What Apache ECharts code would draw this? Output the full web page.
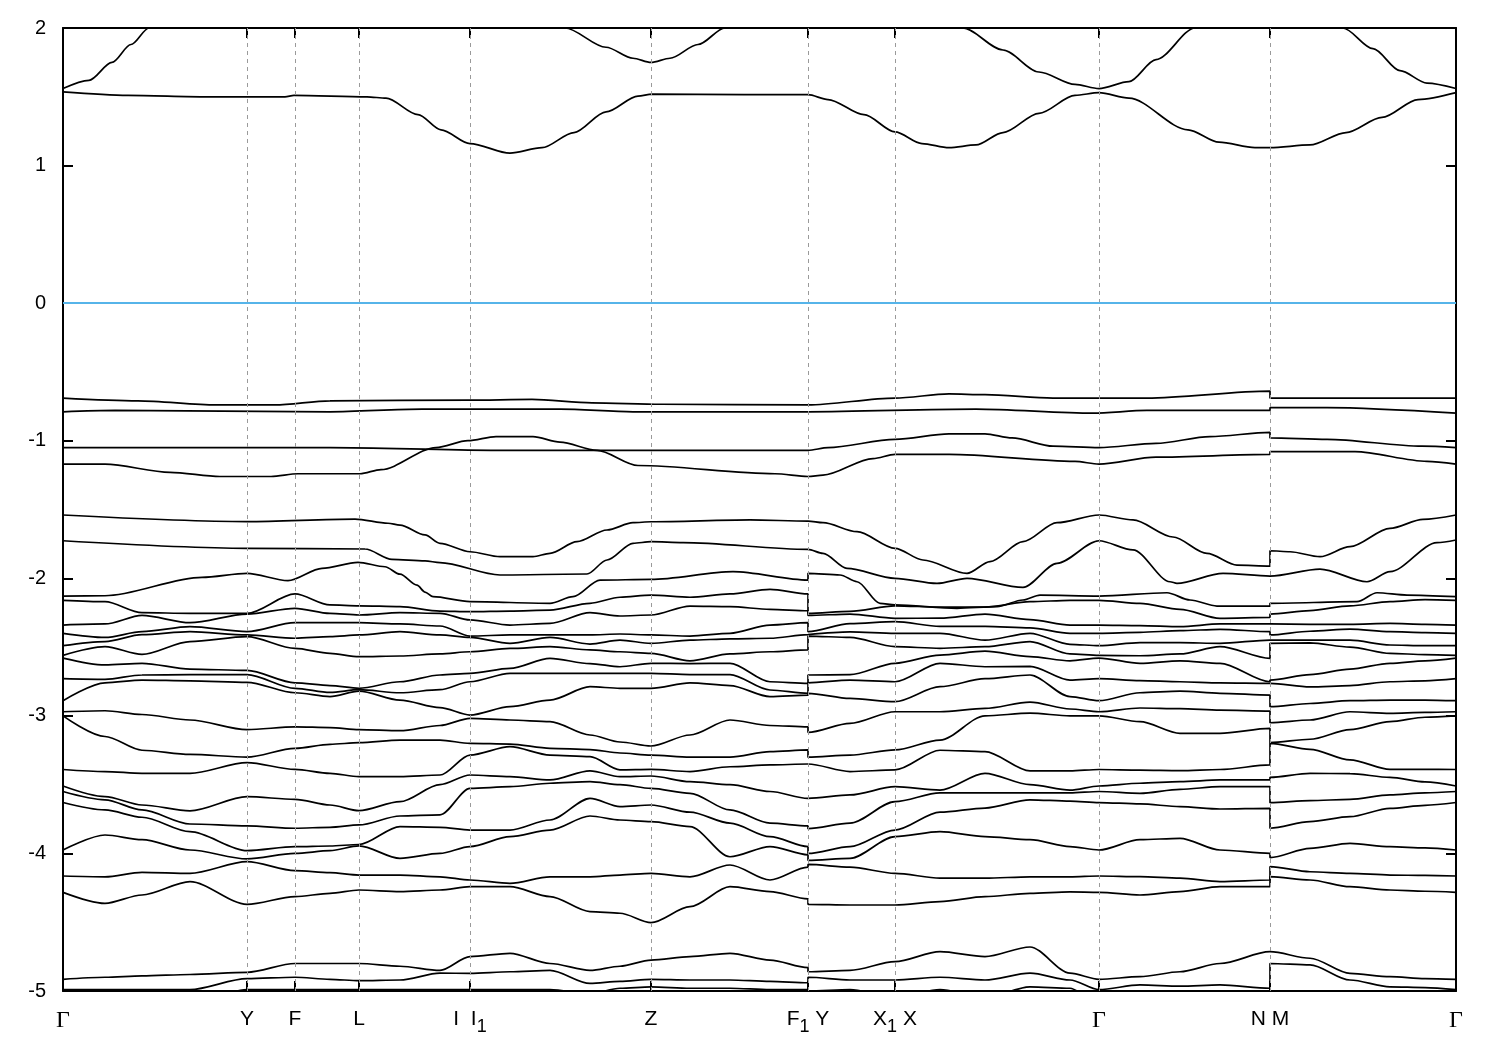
<!DOCTYPE html>
<html><head><meta charset="utf-8">
<script src="https://cdn.jsdelivr.net/npm/echarts@6.0.0/dist/echarts.min.js"></script>
<style>html,body{margin:0;padding:0;background:#fff}#chart{width:1500px;height:1050px}</style>
</head><body><div id="chart"></div>
<script>
// high-symmetry points (path distance, arbitrary units) and their labels
const kTicks = [0, 184, 232, 296, 407, 588, 745, 832, 1036, 1207, 1393];
const kLabels = ['Γ', 'Y', 'F', 'L', 'I  I_1', 'Z', 'F_1 Y', 'X_1 X', 'Γ', 'N M', 'Γ'];
const yTicks = { min: -5, max: 2, step: 1 };
const fermiLevel = 0;

// individually traced bands [k, E(eV)]
const condUpper = [[0,1.56],[26,1.62],[49,1.75],[68,1.88],[86,2.0],[127,2.25],[184,2.4],[237,2.45],[337,2.4],[437,2.25],[502,2.0],[543,1.86],[570,1.78],[588,1.75],[607,1.78],[635,1.88],[662,2.0],[745,2.3],[832,2.25],[900,2.0],[940,1.84],[976,1.68],[1012,1.59],[1036,1.56],[1066,1.61],[1093,1.77],[1132,2.0],[1207,2.3],[1280,2.0],[1310,1.85],[1337,1.69],[1364,1.60],[1393,1.56]];
const condLower = [[0,1.535],[65,1.51],[144,1.50],[222,1.50],[231,1.51],[304,1.50],[323,1.49],[355,1.37],[378,1.26],[407,1.16],[447,1.09],[479,1.13],[511,1.24],[543,1.39],[575,1.505],[589,1.52],[681,1.515],[745,1.515],[765,1.48],[801,1.37],[832,1.245],[859,1.16],[886,1.13],[913,1.15],[940,1.24],[976,1.38],[1012,1.51],[1036,1.53],[1066,1.49],[1125,1.26],[1156,1.17],[1192,1.13],[1207,1.13],[1247,1.15],[1283,1.24],[1319,1.35],[1355,1.48],[1393,1.53]];
const val1 = [[0,-0.69],[75,-0.71],[153,-0.74],[212,-0.74],[267,-0.71],[405,-0.705],[469,-0.70],[529,-0.725],[598,-0.735],[745,-0.74],[832,-0.69],[886,-0.66],[922,-0.665],[990,-0.69],[1084,-0.69],[1207,-0.64],[1207,-0.69],[1393,-0.69]];
const val2 = [[0,-0.79],[52,-0.78],[267,-0.79],[359,-0.77],[497,-0.77],[570,-0.79],[745,-0.79],[913,-0.77],[1030,-0.80],[1084,-0.78],[1207,-0.78],[1207,-0.76],[1264,-0.76],[1393,-0.80]];
const val3 = [[0,-1.05],[139,-1.05],[267,-1.05],[428,-1.07],[745,-1.07],[765,-1.05],[832,-0.99],[886,-0.95],[922,-0.95],[949,-0.98],[990,-1.04],[1036,-1.05],[1093,-1.02],[1147,-0.97],[1207,-0.94],[1207,-0.98],[1264,-0.99],[1359,-1.04],[1393,-1.05]];
const val4 = [[0,-1.17],[42,-1.17],[107,-1.23],[157,-1.26],[208,-1.26],[235,-1.24],[297,-1.24],[318,-1.21],[373,-1.05],[405,-1.00],[433,-0.97],[470,-0.97],[497,-1.01],[534,-1.07],[575,-1.18],[712,-1.24],[745,-1.26],[760,-1.25],[810,-1.13],[832,-1.10],[886,-1.10],[1012,-1.15],[1036,-1.17],[1093,-1.12],[1207,-1.10],[1207,-1.08],[1292,-1.08],[1364,-1.15],[1393,-1.17]];
const val5 = [[0,-1.54],[184,-1.588],[292,-1.57],[325,-1.60],[337,-1.613],[362,-1.685],[377,-1.746],[407,-1.807],[437,-1.843],[470,-1.843],[487,-1.819],[514,-1.734],[544,-1.649],[570,-1.596],[588,-1.589],[687,-1.576],[745,-1.584],[760,-1.596],[794,-1.661],[832,-1.782],[860,-1.867],[904,-1.964],[927,-1.879],[960,-1.734],[994,-1.596],[1036,-1.54],[1070,-1.576],[1110,-1.70],[1144,-1.819],[1174,-1.904],[1207,-1.911],[1207,-1.80],[1227,-1.807],[1257,-1.843],[1287,-1.77],[1327,-1.637],[1360,-1.572],[1393,-1.54]];
const val6 = [[0,-1.727],[184,-1.782],[302,-1.787],[329,-1.862],[362,-1.874],[377,-1.886],[437,-1.976],[524,-1.969],[544,-1.867],[570,-1.746],[588,-1.734],[620,-1.741],[745,-1.79],[760,-1.819],[784,-1.928],[832,-2.0],[874,-2.037],[904,-2.0],[960,-2.066],[994,-1.891],[1036,-1.727],[1070,-1.794],[1107,-2.025],[1114,-2.037],[1160,-1.964],[1207,-1.984],[1257,-1.933],[1304,-2.025],[1327,-1.952],[1374,-1.741],[1393,-1.722]];
const val7 = [[0,-2.129],[42,-2.127],[139,-1.993],[184,-1.964],[225,-2.017],[259,-1.928],[295,-1.884],[322,-1.916],[337,-1.97],[354,-2.05],[362,-2.10],[370,-2.134],[407,-2.17],[487,-2.182],[510,-2.134],[537,-2.013],[588,-2.008],[670,-1.952],[745,-2.013],[745,-1.964],[777,-1.976],[794,-2.025],[817,-2.182],[832,-2.194],[894,-2.218],[934,-2.206],[960,-2.158],[977,-2.122],[1036,-2.129],[1104,-2.105],[1127,-2.158],[1154,-2.202],[1207,-2.202],[1207,-2.182],[1294,-2.17],[1314,-2.105],[1344,-2.122],[1393,-2.134]];

// dense valence manifold: energies at each k column (sorted into bands)
const kGrid = [0,42,79,127,184,232,267,296,337,377,407,447,487,527,557,588,627,667,707,745,745,787,832,877,922,967,1007,1036,1077,1117,1157,1207,1207,1247,1287,1327,1362,1393];
const eGamma = [-2.16,-2.34,-2.40,-2.49,-2.56,-2.58,-2.73,-2.89,-2.97,-3.00,-3.39,-3.51,-3.55,-3.63,-3.975,-4.164,-4.283,-4.915,-4.99,-5.1,-5.2];
const eCols = [
  eGamma,
  [-2.17,-2.332,-2.43,-2.46,-2.497,-2.63,-2.735,-2.76,-2.963,-3.15,-3.405,-3.587,-3.61,-3.684,-3.866,-4.17,-4.363,-4.90,-4.99,-5.1,-5.2],
  [-2.25,-2.27,-2.388,-2.41,-2.553,-2.618,-2.703,-2.74,-2.99,-3.25,-3.418,-3.648,-3.684,-3.737,-3.90,-4.137,-4.302,-4.89,-4.99,-5.1,-5.2],
  [-2.255,-2.323,-2.352,-2.388,-2.46,-2.66,-2.70,-2.745,-3.03,-3.28,-3.418,-3.69,-3.786,-3.842,-3.975,-4.145,-4.205,-4.88,-4.99,-5.1,-5.2],
  [-2.255,-2.26,-2.388,-2.412,-2.424,-2.67,-2.70,-2.756,-3.10,-3.30,-3.34,-3.587,-3.80,-3.98,-4.04,-4.06,-4.37,-4.864,-4.91,-4.99,-5.1],
  [-2.114,-2.218,-2.323,-2.436,-2.51,-2.76,-2.80,-2.832,-3.08,-3.236,-3.389,-3.607,-3.817,-3.951,-4.0,-4.125,-4.314,-4.80,-4.90,-4.99,-5.1],
  [-2.194,-2.255,-2.323,-2.424,-2.546,-2.78,-2.83,-2.86,-3.085,-3.207,-3.418,-3.648,-3.81,-3.946,-3.98,-4.14,-4.29,-4.80,-4.915,-4.99,-5.1],
  [-2.20,-2.267,-2.323,-2.412,-2.57,-2.80,-2.81,-2.82,-3.10,-3.195,-3.442,-3.689,-3.793,-3.935,-3.945,-4.157,-4.266,-4.80,-4.925,-4.99,-5.1],
  [-2.206,-2.25,-2.332,-2.388,-2.565,-2.752,-2.832,-2.885,-3.108,-3.176,-3.442,-3.624,-3.728,-3.805,-4.036,-4.157,-4.278,-4.82,-4.92,-4.99,-5.1],
  [-2.238,-2.255,-2.347,-2.412,-2.55,-2.703,-2.81,-2.94,-3.07,-3.176,-3.43,-3.50,-3.72,-3.81,-4.0,-4.17,-4.266,-4.85,-4.87,-4.99,-5.1],
  [-2.243,-2.303,-2.42,-2.43,-2.534,-2.691,-2.752,-2.994,-3.018,-3.20,-3.285,-3.43,-3.527,-3.83,-3.95,-4.193,-4.242,-4.75,-4.872,-4.99,-5.1],
  [-2.238,-2.34,-2.412,-2.473,-2.51,-2.655,-2.691,-2.933,-3.03,-3.205,-3.224,-3.442,-3.515,-3.83,-3.878,-4.217,-4.242,-4.726,-4.86,-4.99,-5.1],
  [-2.231,-2.328,-2.412,-2.43,-2.497,-2.582,-2.691,-2.885,-3.042,-3.236,-3.285,-3.466,-3.49,-3.757,-3.83,-4.17,-4.314,-4.80,-4.85,-4.99,-5.1],
  [-2.182,-2.25,-2.412,-2.478,-2.52,-2.62,-2.691,-2.788,-3.139,-3.245,-3.297,-3.40,-3.478,-3.60,-3.728,-4.17,-4.423,-4.85,-4.945,-5.02,-5.1],
  [-2.138,-2.274,-2.405,-2.45,-2.534,-2.643,-2.691,-2.80,-3.19,-3.27,-3.393,-3.442,-3.50,-3.66,-3.757,-4.157,-4.435,-4.82,-4.93,-4.98,-5.1],
  [-2.122,-2.267,-2.412,-2.473,-2.546,-2.618,-2.691,-2.80,-3.219,-3.285,-3.389,-3.437,-3.527,-3.648,-3.769,-4.145,-4.503,-4.775,-4.915,-4.97,-5.05],
  [-2.138,-2.202,-2.42,-2.45,-2.60,-2.62,-2.70,-2.76,-3.139,-3.30,-3.405,-3.478,-3.563,-3.70,-3.805,-4.17,-4.387,-4.75,-4.92,-4.98,-5.1],
  [-2.114,-2.206,-2.40,-2.44,-2.55,-2.618,-2.70,-2.78,-3.03,-3.30,-3.37,-3.50,-3.684,-3.78,-4.024,-4.084,-4.242,-4.726,-4.92,-4.98,-5.1],
  [-2.08,-2.226,-2.34,-2.436,-2.534,-2.752,-2.812,-2.86,-3.07,-3.26,-3.357,-3.55,-3.78,-3.878,-3.95,-4.193,-4.278,-4.775,-4.93,-4.99,-5.05],
  [-2.114,-2.236,-2.323,-2.41,-2.52,-2.764,-2.836,-2.85,-3.08,-3.248,-3.35,-3.60,-3.80,-3.95,-4.01,-4.10,-4.33,-4.83,-4.94,-4.99,-5.05],
  [-2.255,-2.27,-2.388,-2.412,-2.42,-2.703,-2.76,-2.836,-3.12,-3.30,-3.35,-3.60,-3.82,-4.00,-4.05,-4.08,-4.37,-4.86,-4.90,-5.0,-5.05],
  [-2.24,-2.26,-2.33,-2.39,-2.43,-2.70,-2.74,-2.873,-3.055,-3.285,-3.405,-3.575,-3.78,-3.951,-4.036,-4.10,-4.375,-4.85,-4.92,-4.99,-5.05],
  [-2.20,-2.291,-2.315,-2.40,-2.497,-2.618,-2.752,-2.897,-2.97,-3.248,-3.393,-3.515,-3.624,-3.83,-3.878,-4.145,-4.375,-4.787,-4.92,-5.05,-5.1],
  [-2.21,-2.29,-2.35,-2.40,-2.509,-2.558,-2.618,-2.788,-2.97,-3.176,-3.25,-3.54,-3.56,-3.70,-3.842,-4.18,-4.35,-4.714,-4.90,-4.99,-5.1],
  [-2.21,-2.26,-2.35,-2.45,-2.497,-2.53,-2.643,-2.73,-2.946,-3.0,-3.26,-3.418,-3.56,-3.67,-3.878,-4.18,-4.314,-4.75,-4.92,-5.05,-5.1],
  [-2.17,-2.30,-2.36,-2.40,-2.46,-2.57,-2.64,-2.703,-2.90,-2.98,-3.40,-3.50,-3.56,-3.61,-3.90,-4.17,-4.29,-4.68,-4.87,-4.97,-5.1],
  [-2.16,-2.34,-2.40,-2.48,-2.55,-2.60,-2.74,-2.86,-2.95,-3.0,-3.40,-3.54,-3.56,-3.62,-3.95,-4.17,-4.28,-4.87,-4.92,-4.98,-5.1],
  eGamma,
  [-2.182,-2.344,-2.393,-2.468,-2.563,-2.618,-2.744,-2.832,-2.943,-3.042,-3.394,-3.49,-3.563,-3.64,-3.90,-4.169,-4.302,-4.896,-4.956,-5.05,-5.1],
  [-2.226,-2.352,-2.381,-2.468,-2.55,-2.60,-2.752,-2.82,-2.948,-3.127,-3.398,-3.478,-3.534,-3.66,-3.89,-4.18,-4.278,-4.86,-4.965,-5.05,-5.1],
  [-2.291,-2.332,-2.371,-2.473,-2.497,-2.618,-2.76,-2.836,-2.958,-3.127,-3.39,-3.466,-3.515,-3.677,-3.975,-4.205,-4.242,-4.80,-4.956,-5.05,-5.1],
  [-2.284,-2.332,-2.388,-2.449,-2.582,-2.752,-2.764,-2.849,-2.965,-3.091,-3.357,-3.466,-3.515,-3.672,-4.0,-4.193,-4.242,-4.714,-4.98,-5.05,-5.1],
  [-2.26,-2.332,-2.412,-2.449,-2.473,-2.74,-2.764,-2.933,-3.05,-3.195,-3.20,-3.447,-3.631,-3.817,-4.03,-4.096,-4.169,-4.714,-4.80,-5.05,-5.1],
  [-2.235,-2.335,-2.385,-2.45,-2.47,-2.70,-2.79,-2.91,-3.03,-3.17,-3.243,-3.418,-3.616,-3.769,-3.963,-4.133,-4.193,-4.762,-4.81,-5.05,-5.1],
  [-2.20,-2.335,-2.37,-2.45,-2.50,-2.66,-2.78,-2.89,-2.97,-3.10,-3.32,-3.42,-3.607,-3.733,-3.927,-4.145,-4.242,-4.872,-4.92,-5.05,-5.1],
  [-2.17,-2.328,-2.388,-2.485,-2.546,-2.618,-2.752,-2.885,-2.982,-3.042,-3.389,-3.447,-3.575,-3.672,-3.951,-4.157,-4.266,-4.896,-4.97,-5.05,-5.1],
  [-2.155,-2.335,-2.395,-2.49,-2.555,-2.60,-2.745,-2.885,-2.975,-3.01,-3.389,-3.48,-3.56,-3.65,-3.96,-4.16,-4.275,-4.91,-4.975,-5.05,-5.1],
  eGamma
];

// ---- build series ----
const tracedBands = [condUpper, condLower, val1, val2, val3, val4, val5, val6, val7];
const sortedCols = eCols.map(c => c.slice().sort((a, b) => b - a));
const nDense = sortedCols[0].length;
const denseBands = [];
for (let i = 0; i < nDense; i++) denseBands.push(kGrid.map((k, j) => [k, sortedCols[j][i]]));
const allBands = tracedBands.concat(denseBands);

const bandStyle = { color: '#000', width: 1.7 };
const series = allBands.map(d => ({
  type: 'line', data: d, showSymbol: false, symbol: 'none', clip: true, silent: true,
  smooth: 0.3, smoothMonotone: 'x',
  lineStyle: bandStyle, z: 3, animation: false
}));

const gridMarks = kTicks.slice(1, -1).map(k => ({ xAxis: k, lineStyle: { color: '#9a9a9a', width: 1, type: [4, 4] } }));
gridMarks.push({ yAxis: fermiLevel, lineStyle: { color: '#56b4e9', width: 2, type: 'solid' } });
series.push({
  type: 'line', data: [], silent: true, z: 1, animation: false,
  markLine: { symbol: ['none', 'none'], silent: true, animation: false, label: { show: false }, data: gridMarks }
});

function richLabel(v) {
  const idx = kTicks.indexOf(v);
  if (idx < 0) return '';
  const lbl = kLabels[idx];
  if (lbl === 'Γ') return '{g|Γ}';
  return lbl.split(/(_\w)/).filter(Boolean).map(p => p[0] === '_' ? '{s|' + p.slice(1) + '}' : '{t|' + p + '}').join('');
}

const font = 'Liberation Sans, Arial, sans-serif';
const axisLineStyle = { color: '#000', width: 2 };
const option = {
  backgroundColor: '#fff',
  animation: false,
  grid: { left: 63, right: 44, top: 28, bottom: 59 },
  xAxis: [
    { type: 'value', min: 0, max: 1393, position: 'bottom',
      axisLine: { show: true, onZero: false, lineStyle: axisLineStyle },
      axisTick: { show: true, inside: true, length: 10, customValues: kTicks, lineStyle: axisLineStyle },
      axisLabel: { show: true, customValues: kTicks, margin: 18, formatter: richLabel,
        rich: {
          t: { fontSize: 21, fontFamily: font, color: '#000', padding: [0, 0, 8, 0] },
          s: { fontSize: 18, fontFamily: font, color: '#000', padding: [8, 0, 0, 0] },
          g: { fontSize: 24, fontFamily: 'Liberation Serif, Times New Roman, serif', color: '#000', padding: [0, 0, 8, 0] }
        } },
      splitLine: { show: false } },
    { type: 'value', min: 0, max: 1393, position: 'top',
      axisLine: { show: true, onZero: false, lineStyle: axisLineStyle },
      axisTick: { show: true, inside: true, length: 10, customValues: kTicks, lineStyle: axisLineStyle },
      axisLabel: { show: false }, splitLine: { show: false } }
  ],
  yAxis: [
    { type: 'value', min: yTicks.min, max: yTicks.max, interval: yTicks.step, position: 'left',
      axisLine: { show: true, onZero: false, lineStyle: axisLineStyle },
      axisTick: { show: true, inside: true, length: 10, lineStyle: axisLineStyle },
      axisLabel: { show: true, margin: 17, fontSize: 20, fontFamily: font, color: '#000' },
      splitLine: { show: false } },
    { type: 'value', min: yTicks.min, max: yTicks.max, interval: yTicks.step, position: 'right',
      axisLine: { show: true, onZero: false, lineStyle: axisLineStyle },
      axisTick: { show: true, inside: true, length: 10, lineStyle: axisLineStyle },
      axisLabel: { show: false }, splitLine: { show: false } }
  ],
  series: series
};
const chart = echarts.init(document.getElementById('chart'), null, { renderer: 'canvas' });
chart.setOption(option);
</script></body></html>
